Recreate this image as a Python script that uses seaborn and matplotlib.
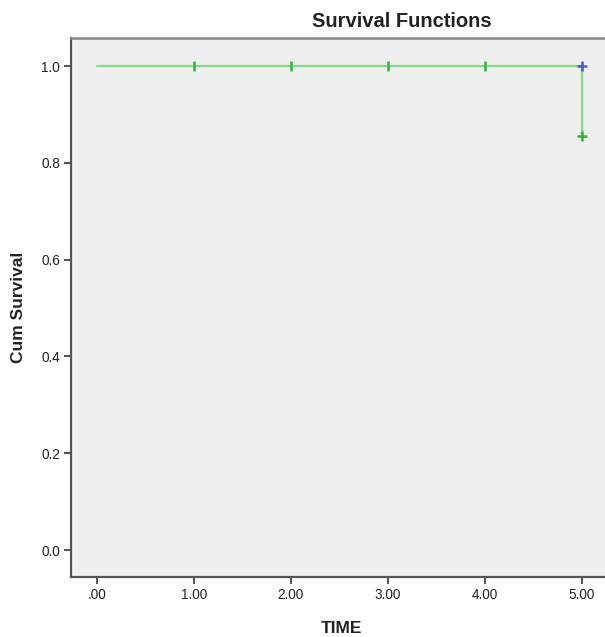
import matplotlib
matplotlib.use("Agg")
import matplotlib.pyplot as plt
import seaborn as sns
import pandas as pd

# Data
time = [0.0, 5.0, 5.0]
survival = [1.0, 1.0, 0.855]
censor_time = [1.0, 2.0, 3.0, 4.0]
censor_surv = [1.0, 1.0, 1.0, 1.0]
event_time = [5.0]
event_surv_blue = [1.0]
event_surv_green = [0.855]
xticks = [0, 1, 2, 3, 4, 5]
xtick_labels = [".00", "1.00", "2.00", "3.00", "4.00", "5.00"]
yticks = [0.0, 0.2, 0.4, 0.6, 0.8, 1.0]
ytick_labels = ["0.0", "0.2", "0.4", "0.6", "0.8", "1.0"]

sns.set_style("white")
plt.rcParams['font.family'] = ['Liberation Sans', 'DejaVu Sans']

fig = plt.figure(figsize=(6.05, 6.37), dpi=100)
ax = fig.add_axes([71/605, 1-577/637, 662/605, (577-38)/637])
ax.set_facecolor("#efefef")

df = pd.DataFrame({"t": time, "s": survival})
ax.plot(df["t"], df["s"], color="#86d98a", lw=1.6, zorder=2)
sns.scatterplot(x=censor_time, y=censor_surv, marker="|", s=45, color="#2fb53a",
                linewidth=1.8, ax=ax, zorder=3)
sns.scatterplot(x=event_time, y=event_surv_blue, marker="+", s=55, color="#4a5fc4",
                linewidth=1.8, ax=ax, zorder=3)
sns.scatterplot(x=event_time, y=event_surv_green, marker="+", s=55, color="#2fb53a",
                linewidth=1.8, ax=ax, zorder=3)

x0px, x5px = 97, 582
ppu = (x5px - x0px) / 5
ax.set_xlim((71 - x0px) / ppu, (733 - x0px) / ppu)
ypu = (550 - 66)
ax.set_ylim(-(577 - 550) / ypu, (550 - 38) / ypu)

ax.set_xticks(xticks)
ax.set_xticklabels(xtick_labels)
ax.set_yticks(yticks)
ax.set_yticklabels(ytick_labels)
ax.tick_params(axis="both", direction="out", length=5, width=1.3, color="#444444",
               labelsize=9.8, labelcolor="#222222", pad=3)
ax.tick_params(bottom=True, left=True)

for side in ["left", "bottom"]:
    ax.spines[side].set_color("#555555")
    ax.spines[side].set_linewidth(1.6)
ax.spines["top"].set_color("#888888")
ax.spines["top"].set_linewidth(1.8)
ax.spines["right"].set_visible(False)

ax.set_title("Survival Functions", fontsize=14.5, fontweight="bold", color="#222222", pad=8)
ax.set_xlabel("TIME", fontsize=12.5, fontweight="bold", color="#222222")
ax.set_ylabel("Cum Survival", fontsize=12.5, fontweight="bold", color="#222222")
ax.xaxis.set_label_coords((341 - 71) / 662, -0.082)
ax.yaxis.set_label_coords(-(71 - 26) / 662, 0.5)

fig.savefig("out.png", dpi=100)
